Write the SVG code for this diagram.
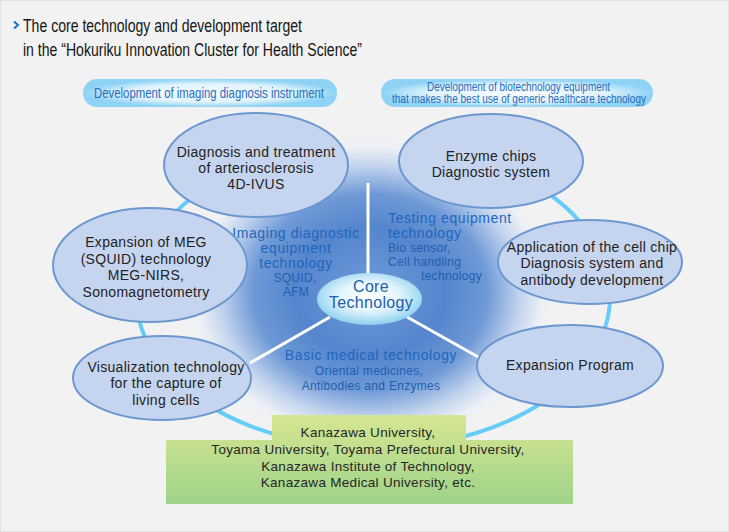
<svg xmlns="http://www.w3.org/2000/svg" width="729" height="532" viewBox="0 0 729 532">
<defs>
<radialGradient id="pillGrad" cx="50%" cy="50%" r="50%">
<stop offset="0" stop-color="#f6fcff"/>
<stop offset="0.65" stop-color="#e0f3fc"/>
<stop offset="1" stop-color="#8ed3f5"/>
</radialGradient>
<radialGradient id="blobGrad" cx="50%" cy="50%" r="50%">
<stop offset="0" stop-color="#6f9bd9"/>
<stop offset="0.4" stop-color="#5585cd"/>
<stop offset="0.62" stop-color="#6e99d6"/>
<stop offset="0.8" stop-color="#c3d4ee"/>
<stop offset="0.92" stop-color="#edf0f6"/>
<stop offset="1" stop-color="#f2f2f2"/>
</radialGradient>
<radialGradient id="coreGrad" cx="50%" cy="45%" r="55%">
<stop offset="0" stop-color="#ffffff"/>
<stop offset="0.5" stop-color="#e6f6fd"/>
<stop offset="0.85" stop-color="#a9dcf3"/>
<stop offset="1" stop-color="#8ccff0"/>
</radialGradient>
<linearGradient id="greenGrad" x1="0" y1="0" x2="0" y2="1">
<stop offset="0" stop-color="#d6e692"/>
<stop offset="1" stop-color="#9ed38a"/>
</linearGradient>
<style>
.title{font-family:"Liberation Sans",Arial,sans-serif;font-size:17.5px;fill:#151515}
.pill{font-family:"Liberation Sans",Arial,sans-serif;fill:#2b6cbd}
.node ellipse{fill:#c6d5ef;stroke:#6d98cf;stroke-width:2}
.nt{font-family:"Liberation Sans",Arial,sans-serif;font-size:14px;letter-spacing:0.3px;fill:#222222;text-anchor:middle}
.hd{font-family:"Liberation Sans",Arial,sans-serif;font-size:14px;letter-spacing:0.6px;fill:#1f66bd}
.sb{font-family:"Liberation Sans",Arial,sans-serif;font-size:12px;letter-spacing:0.3px;fill:#1f5faf}
.core{font-family:"Liberation Sans",Arial,sans-serif;font-size:16px;letter-spacing:0.3px;fill:#1d5da8;text-anchor:middle}
.gt{font-family:"Liberation Sans",Arial,sans-serif;font-size:13.5px;letter-spacing:0.3px;fill:#262626;text-anchor:middle}
</style>
</defs>
<rect x="0.5" y="0.5" width="728" height="531" fill="#f2f2f2" stroke="#e2e2e2"/>

<g id="title">
<path d="M14,21.5 L18,25 L14,28.5" fill="none" stroke="#1f6fc5" stroke-width="2"/>
<text class="title" x="23" y="32" textLength="279" lengthAdjust="spacingAndGlyphs">The core technology and development target</text>
<text class="title" x="23" y="56" textLength="339" lengthAdjust="spacingAndGlyphs">in the “Hokuriku Innovation Cluster for Health Science”</text>
</g>

<g id="pill-imaging">
<rect x="83" y="79" width="254" height="28" rx="14" fill="url(#pillGrad)"/>
<text class="pill" x="94" y="98" font-size="15" textLength="230" lengthAdjust="spacingAndGlyphs">Development of imaging diagnosis instrument</text>
</g>
<g id="pill-biotech">
<rect x="381" y="79" width="272" height="28" rx="14" fill="url(#pillGrad)"/>
<text class="pill" x="427" y="90.5" font-size="12" textLength="183" lengthAdjust="spacingAndGlyphs">Development of biotechnology equipment</text>
<text class="pill" x="392" y="103" font-size="12" textLength="254" lengthAdjust="spacingAndGlyphs">that makes the best use of generic healthcare technology</text>
</g>

<g id="connectors">
<path d="M345,145.1 A237,152 0 1 0 405,145.4" fill="none" stroke="#66ccf8" stroke-width="4"/>
</g>

<g id="core-area">
<ellipse cx="370" cy="292" rx="188" ry="158" fill="url(#blobGrad)"/>
<g stroke="#ffffff" stroke-width="3" fill="none">
<line x1="368" y1="183" x2="368" y2="275"/>
<line x1="330" y1="317" x2="250" y2="363"/>
<line x1="407" y1="317" x2="480" y2="358"/>
</g>
<text class="hd" x="296" y="238" text-anchor="middle">Imaging diagnostic</text>
<text class="hd" x="296" y="253" text-anchor="middle">equipment</text>
<text class="hd" x="296" y="268" text-anchor="middle">technology</text>
<text class="sb" x="295" y="282" text-anchor="middle">SQUID,</text>
<text class="sb" x="296" y="296" text-anchor="middle">AFM</text>
<text class="hd" x="388" y="223">Testing equipment</text>
<text class="hd" x="388" y="238">technology</text>
<text class="sb" x="388" y="252">Bio sensor,</text>
<text class="sb" x="388" y="266">Cell handling</text>
<text class="sb" x="421" y="280">technology</text>
<text class="hd" x="371" y="360" text-anchor="middle">Basic medical technology</text>
<text class="sb" x="369" y="375" text-anchor="middle">Oriental medicines,</text>
<text class="sb" x="371" y="390" text-anchor="middle">Antibodies and Enzymes</text>
</g>

<g id="node-diagnosis" class="node">
<ellipse cx="256" cy="165" rx="92" ry="52"/>
<text class="nt" x="256" y="157">Diagnosis and treatment</text>
<text class="nt" x="256" y="173">of arteriosclerosis</text>
<text class="nt" x="256" y="189">4D-IVUS</text>
</g>
<g id="node-enzyme" class="node">
<ellipse cx="491" cy="161" rx="92" ry="47"/>
<text class="nt" x="491" y="161">Enzyme chips</text>
<text class="nt" x="491" y="177">Diagnostic system</text>
</g>
<g id="node-meg" class="node">
<ellipse cx="150" cy="265" rx="97" ry="57"/>
<text class="nt" x="146" y="247">Expansion of MEG</text>
<text class="nt" x="146" y="264">(SQUID) technology</text>
<text class="nt" x="146" y="280">MEG-NIRS,</text>
<text class="nt" x="146" y="297">Sonomagnetometry</text>
</g>
<g id="node-application" class="node">
<ellipse cx="590" cy="262" rx="92" ry="42"/>
<text class="nt" x="592" y="252">Application of the cell chip</text>
<text class="nt" x="592" y="268">Diagnosis system and</text>
<text class="nt" x="592" y="285">antibody development</text>
</g>
<g id="node-visualization" class="node">
<ellipse cx="162" cy="378" rx="89" ry="42"/>
<text class="nt" x="166" y="372">Visualization technology</text>
<text class="nt" x="166" y="388">for the capture of</text>
<text class="nt" x="166" y="405">living cells</text>
</g>
<g id="node-expansion" class="node">
<ellipse cx="570" cy="366" rx="93" ry="41"/>
<text class="nt" x="570" y="370">Expansion Program</text>
</g>

<g id="node-core">
<ellipse cx="369.5" cy="299" rx="52.5" ry="26" fill="url(#coreGrad)"/>
<text class="core" x="371" y="292">Core</text>
<text class="core" x="371" y="308">Technology</text>
</g>

<g id="node-universities">
<path d="M272,415 H466 V440 H573 V504 H166 V440 H272 Z" fill="url(#greenGrad)"/>
<text class="gt" x="368" y="437">Kanazawa University,</text>
<text class="gt" x="368" y="454">Toyama University, Toyama Prefectural University,</text>
<text class="gt" x="368" y="471">Kanazawa Institute of Technology,</text>
<text class="gt" x="368" y="487">Kanazawa Medical University, etc.</text>
</g>
</svg>
